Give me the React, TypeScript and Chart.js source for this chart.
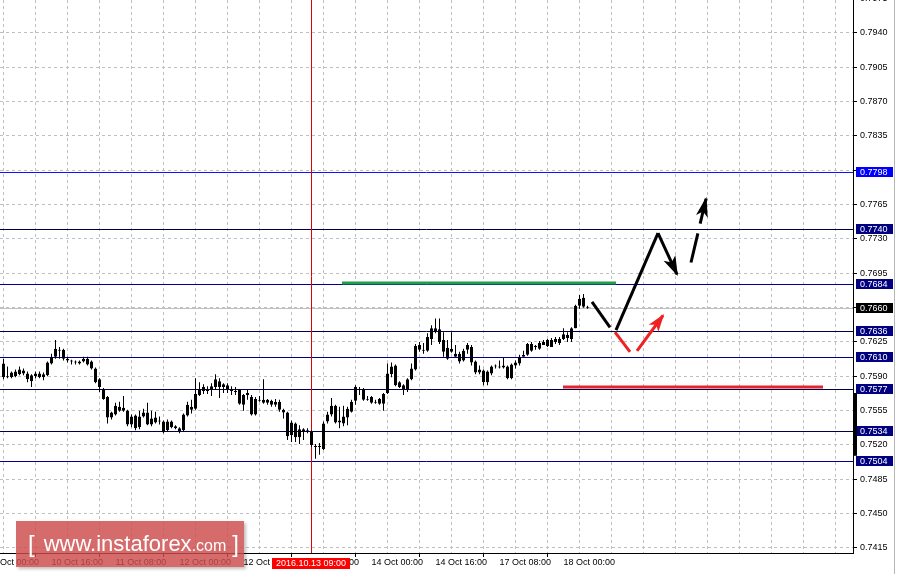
import React, { useEffect, useRef } from "react";
import { Chart, registerables } from "chart.js";

Chart.register(...registerables);

// ---- candle data (hourly), candle 0 = 10 Oct 04:00 ----
const opens = [
  0.7603, 0.7590, 0.7589, 0.7595, 0.7592, 0.7596, 0.7593, 0.7585, 0.7593, 0.7589,
  0.7589, 0.7591, 0.7603, 0.7610, 0.7617, 0.7617, 0.7608, 0.7606, 0.7605, 0.7603,
  0.7605, 0.7608, 0.7605, 0.7598, 0.7587, 0.7577, 0.7569, 0.7548, 0.7551, 0.7555,
  0.7558, 0.7555, 0.7541, 0.7550, 0.7538, 0.7549, 0.7553, 0.7541, 0.7548, 0.7545,
  0.7544, 0.7535, 0.7544, 0.7539, 0.7537, 0.7535, 0.7550, 0.7559, 0.7557, 0.7571,
  0.7579, 0.7576, 0.7576, 0.7579, 0.7585, 0.7582, 0.7581, 0.7577, 0.7575, 0.7576,
  0.7561, 0.7571, 0.7569, 0.7551, 0.7566, 0.7566, 0.7566, 0.7565, 0.7561, 0.7564,
  0.7556, 0.7553, 0.7530, 0.7542, 0.7528, 0.7534, 0.7535, 0.7534, 0.7519, 0.7519,
  0.7516, 0.7544, 0.7551, 0.7560, 0.7545, 0.7549, 0.7548, 0.7554, 0.7565, 0.7577,
  0.7577, 0.7567, 0.7569, 0.7564, 0.7562, 0.7562, 0.7573, 0.7592, 0.7601, 0.7584,
  0.7581, 0.7576, 0.7587, 0.7597, 0.7617, 0.7617, 0.7616, 0.7628, 0.7636, 0.7638,
  0.7627, 0.7608, 0.7618, 0.7613, 0.7613, 0.7606, 0.7622, 0.7620, 0.7605, 0.7594,
  0.7596, 0.7584, 0.7593, 0.7600, 0.7600, 0.7599, 0.7600, 0.7588, 0.7601, 0.7603,
  0.7610, 0.7612, 0.7623, 0.7620, 0.7618, 0.7622, 0.7627, 0.7620, 0.7625, 0.7624,
  0.7628, 0.7632, 0.7628, 0.7639, 0.7662, 0.7670, 0.7661,
];
const highs = [
  0.7608, 0.7600, 0.7595, 0.7597, 0.7600, 0.7598, 0.7595, 0.7592, 0.7595, 0.7595,
  0.7594, 0.7605, 0.7613, 0.7627, 0.7620, 0.7618, 0.7610, 0.7607, 0.7606, 0.7606,
  0.7610, 0.7610, 0.7606, 0.7599, 0.7588, 0.7578, 0.7570, 0.7554, 0.7563, 0.7564,
  0.7570, 0.7556, 0.7551, 0.7551, 0.7555, 0.7557, 0.7563, 0.7555, 0.7554, 0.7549,
  0.7545, 0.7546, 0.7545, 0.7540, 0.7538, 0.7552, 0.7564, 0.7566, 0.7588, 0.7584,
  0.7582, 0.7580, 0.7583, 0.7592, 0.7588, 0.7583, 0.7583, 0.7580, 0.7579, 0.7577,
  0.7572, 0.7576, 0.7571, 0.7569, 0.7570, 0.7587, 0.7567, 0.7566, 0.7567, 0.7566,
  0.7557, 0.7554, 0.7545, 0.7543, 0.7540, 0.7537, 0.7537, 0.7535, 0.7521, 0.7522,
  0.7544, 0.7554, 0.7568, 0.7561, 0.7559, 0.7560, 0.7559, 0.7566, 0.7581, 0.7579,
  0.7578, 0.7570, 0.7570, 0.7566, 0.7568, 0.7573, 0.7603, 0.7604, 0.7602, 0.7585,
  0.7582, 0.7588, 0.7603, 0.7623, 0.7625, 0.7624, 0.7634, 0.7642, 0.7649, 0.7649,
  0.7635, 0.7627, 0.7635, 0.7622, 0.7615, 0.7618, 0.7624, 0.7622, 0.7606, 0.7601,
  0.7597, 0.7596, 0.7601, 0.7602, 0.7606, 0.7609, 0.7601, 0.7603, 0.7606, 0.7612,
  0.7616, 0.7624, 0.7625, 0.7622, 0.7626, 0.7627, 0.7628, 0.7629, 0.7630, 0.7630,
  0.7639, 0.7635, 0.7640, 0.7663, 0.7673, 0.7674, 0.7662,
];
const lows = [
  0.7587, 0.7588, 0.7588, 0.7589, 0.7591, 0.7591, 0.7584, 0.7579, 0.7588, 0.7588,
  0.7586, 0.7590, 0.7602, 0.7608, 0.7608, 0.7606, 0.7604, 0.7602, 0.7602, 0.7602,
  0.7604, 0.7601, 0.7597, 0.7583, 0.7574, 0.7566, 0.7542, 0.7546, 0.7550, 0.7554,
  0.7554, 0.7539, 0.7538, 0.7535, 0.7536, 0.7548, 0.7540, 0.7539, 0.7542, 0.7541,
  0.7532, 0.7534, 0.7537, 0.7536, 0.7532, 0.7534, 0.7549, 0.7552, 0.7556, 0.7570,
  0.7572, 0.7572, 0.7570, 0.7576, 0.7568, 0.7573, 0.7573, 0.7571, 0.7571, 0.7561,
  0.7555, 0.7566, 0.7550, 0.7550, 0.7564, 0.7562, 0.7561, 0.7559, 0.7559, 0.7554,
  0.7547, 0.7525, 0.7523, 0.7523, 0.7521, 0.7525, 0.7532, 0.7518, 0.7506, 0.7510,
  0.7515, 0.7542, 0.7549, 0.7542, 0.7537, 0.7539, 0.7540, 0.7553, 0.7561, 0.7571,
  0.7565, 0.7565, 0.7562, 0.7562, 0.7561, 0.7555, 0.7572, 0.7589, 0.7580, 0.7578,
  0.7571, 0.7574, 0.7586, 0.7596, 0.7615, 0.7613, 0.7615, 0.7622, 0.7634, 0.7623,
  0.7610, 0.7607, 0.7614, 0.7610, 0.7603, 0.7605, 0.7613, 0.7601, 0.7592, 0.7592,
  0.7581, 0.7581, 0.7591, 0.7598, 0.7598, 0.7598, 0.7587, 0.7587, 0.7598, 0.7601,
  0.7610, 0.7611, 0.7615, 0.7617, 0.7617, 0.7622, 0.7620, 0.7620, 0.7623, 0.7622,
  0.7627, 0.7625, 0.7625, 0.7639, 0.7659, 0.7660, 0.7659,
];
const closes = [
  0.7589, 0.7589, 0.7594, 0.7590, 0.7597, 0.7593, 0.7587, 0.7591, 0.7590, 0.7593,
  0.7592, 0.7604, 0.7610, 0.7618, 0.7616, 0.7608, 0.7606, 0.7605, 0.7604, 0.7605,
  0.7608, 0.7602, 0.7598, 0.7584, 0.7579, 0.7567, 0.7548, 0.7553, 0.7560, 0.7559,
  0.7555, 0.7541, 0.7549, 0.7537, 0.7549, 0.7553, 0.7541, 0.7547, 0.7543, 0.7544,
  0.7533, 0.7544, 0.7538, 0.7537, 0.7534, 0.7551, 0.7561, 0.7556, 0.7572, 0.7577,
  0.7575, 0.7575, 0.7580, 0.7587, 0.7579, 0.7579, 0.7577, 0.7575, 0.7574, 0.7562,
  0.7571, 0.7573, 0.7551, 0.7567, 0.7565, 0.7563, 0.7563, 0.7561, 0.7564, 0.7556,
  0.7553, 0.7529, 0.7543, 0.7528, 0.7536, 0.7536, 0.7534, 0.7520, 0.7518, 0.7518,
  0.7542, 0.7551, 0.7560, 0.7543, 0.7543, 0.7542, 0.7557, 0.7564, 0.7579, 0.7576,
  0.7566, 0.7566, 0.7563, 0.7563, 0.7567, 0.7572, 0.7593, 0.7600, 0.7581, 0.7579,
  0.7577, 0.7587, 0.7598, 0.7621, 0.7622, 0.7616, 0.7630, 0.7639, 0.7639, 0.7625,
  0.7615, 0.7619, 0.7615, 0.7610, 0.7605, 0.7616, 0.7617, 0.7604, 0.7594, 0.7597,
  0.7584, 0.7595, 0.7600, 0.7601, 0.7599, 0.7601, 0.7588, 0.7602, 0.7604, 0.7610,
  0.7612, 0.7623, 0.7616, 0.7621, 0.7624, 0.7625, 0.7621, 0.7627, 0.7628, 0.7628,
  0.7633, 0.7629, 0.7639, 0.7662, 0.7669, 0.7661, 0.7660,
];

// ---- axes ----
const xTickCandles = [-4, 12, 28, 44, 60, 76, 92, 108, 124, 140];
const xTickLabels = [
  "10 Oct 00:00", "10 Oct 16:00", "11 Oct 08:00", "12 Oct 00:00", "12 Oct 16:00",
  "13 Oct 08:00", "14 Oct 00:00", "14 Oct 16:00", "17 Oct 08:00", "18 Oct 00:00",
];
const xGridCandles = [-4, 4, 12, 20, 28, 36, 44, 52, 60, 68, 76, 84, 92, 100, 108, 116, 124, 132, 140, 148, 156, 164, 172, 180, 188, 196, 204, 212];
const yTicks = [
  0.7415, 0.7450, 0.7485, 0.7520, 0.7555, 0.7590, 0.7625, 0.7660, 0.7695,
  0.7730, 0.7765, 0.7800, 0.7835, 0.7870, 0.7905, 0.7940, 0.7975,
];
const yMin = 0.74099;
const yMax = 0.79736;
const xMax = 213.25;

// ---- levels & annotations ----
const levelValues = [0.7798, 0.7740, 0.7684, 0.7636, 0.7610, 0.7577, 0.7534, 0.7504];
const currentPrice = 0.7660;
const crossCandle = 77;
const crossLabel = "2016.10.13 09:00";

const greenLineX = [85.5, 154];
const greenLineY = [0.7685, 0.7685];
const redLineX = [140.75, 205.75];
const redLineY = [0.7579, 0.7579];
const blackSeg1X = [148, 152.5];
const blackSeg1Y = [0.7666, 0.7640];
const blackSeg2X = [154, 164.5];
const blackSeg2Y = [0.7637, 0.7736];
const blackArrowX = [164.5, 169.25];
const blackArrowY = [0.7736, 0.7694];
const dashArrowX = [172.75, 176.5];
const dashArrowY = [0.7706, 0.7771];
const redSegX = [153.75, 157.5];
const redSegY = [0.7635, 0.7615];
const redArrowX = [159.25, 165.75];
const redArrowY = [0.7616, 0.7652];

// style tables
const OFF = 0.875; // candle i centred at x = i + OFF
const levelLineColors = ["#1010ff", "#00004a", "#000090", "#00004a", "#000090", "#00004a", "#00004a", "#000090"];
const levelBoxColors = ["#0000ff", "#000080", "#000080", "#000080", "#000080", "#000080", "#000080", "#000080"];
const FONT = '"Liberation Sans", Arial, sans-serif';

const pts = (xs: number[], ys: number[]) => xs.map((x, i) => ({ x, y: ys[i] }));

const zeroPad = (s: any) => {
  s.paddingLeft = 0;
  s.paddingRight = 0;
  s.paddingTop = 0;
  s.paddingBottom = 0;
};

const overlayPlugin = {
  id: "overlay",
  beforeDatasetsDraw(chart: any) {
    const { ctx, chartArea: a, scales } = chart;
    const x = scales.x;
    const y = scales.y;
    ctx.save();
    ctx.beginPath();
    ctx.rect(a.left, a.top, a.right - a.left, a.bottom - a.top);
    ctx.clip();
    ctx.lineWidth = 1;
    const py = Math.round(y.getPixelForValue(currentPrice)) + 0.5;
    ctx.strokeStyle = "#c0c0c0";
    ctx.beginPath();
    ctx.moveTo(a.left, py);
    ctx.lineTo(a.right, py);
    ctx.stroke();
    levelValues.forEach((v, i) => {
      const yy = Math.round(y.getPixelForValue(v)) + 0.5;
      ctx.strokeStyle = levelLineColors[i];
      ctx.beginPath();
      ctx.moveTo(a.left, yy);
      ctx.lineTo(a.right, yy);
      ctx.stroke();
    });
    const cx = Math.floor(x.getPixelForValue(crossCandle + OFF)) + 0.5;
    ctx.strokeStyle = "#e00000";
    ctx.beginPath();
    ctx.moveTo(cx, a.top);
    ctx.lineTo(cx, a.bottom);
    ctx.stroke();
    ctx.restore();
  },
  afterDatasetsDraw(chart: any) {
    const { ctx } = chart;
    chart.data.datasets.forEach((ds: any, i: number) => {
      if (!ds.arrowHead) return;
      const meta = chart.getDatasetMeta(i);
      const n = meta.data.length;
      const p1 = meta.data[n - 2];
      const p2 = meta.data[n - 1];
      const ang = Math.atan2(p2.y - p1.y, p2.x - p1.x);
      const { len, width } = ds.arrowHead;
      const tx = p2.x + Math.cos(ang) * 2;
      const ty = p2.y + Math.sin(ang) * 2;
      const bx = tx - Math.cos(ang) * len;
      const by = ty - Math.sin(ang) * len;
      const nx = (-Math.sin(ang) * width) / 2;
      const ny = (Math.cos(ang) * width) / 2;
      ctx.save();
      ctx.fillStyle = ds.borderColor;
      ctx.beginPath();
      ctx.moveTo(tx, ty);
      ctx.lineTo(bx + nx, by + ny);
      ctx.lineTo(bx + Math.cos(ang) * len * 0.25, by + Math.sin(ang) * len * 0.25);
      ctx.lineTo(bx - nx, by - ny);
      ctx.closePath();
      ctx.fill();
      ctx.restore();
    });
  },
  afterDraw(chart: any) {
    const { ctx, chartArea: a, scales } = chart;
    const x = scales.x;
    const y = scales.y;
    ctx.save();
    ctx.font = `9px ${FONT}`;
    ctx.textBaseline = "middle";
    ctx.textAlign = "left";
    const box = (v: number, color: string) => {
      const yy = Math.round(y.getPixelForValue(v));
      ctx.fillStyle = color;
      ctx.fillRect(a.right + 3, yy - 5, 37, 10);
      ctx.fillStyle = "#ffffff";
      ctx.fillText(v.toFixed(4), a.right + 7, yy + 0.5);
    };
    levelValues.forEach((v, i) => box(v, levelBoxColors[i]));
    box(currentPrice, "#000000");
    const cx = Math.floor(x.getPixelForValue(crossCandle + OFF));
    ctx.fillStyle = "#ff0000";
    ctx.fillRect(cx - 39, a.bottom + 5, 78, 11);
    ctx.fillStyle = "#ffffff";
    ctx.textAlign = "center";
    ctx.fillText(crossLabel, cx, a.bottom + 11);
    ctx.fillStyle = "#000000";
    const t1 = y.getPixelForValue(0.7573);
    const t2 = y.getPixelForValue(0.7509);
    ctx.fillRect(a.right + 1, t1, 3, t2 - t1);
    ctx.strokeStyle = "#b8b8b8";
    ctx.lineWidth = 1;
    ctx.beginPath();
    ctx.moveTo(894.5, 0);
    ctx.lineTo(894.5, chart.height);
    ctx.stroke();
    ctx.restore();
  },
};

export default function App() {
  const ref = useRef<HTMLCanvasElement>(null);
  useEffect(() => {
    const candleIdx = opens.map((_, i) => i);
    const wickData = candleIdx.map((i) => ({ x: i + OFF, y: [lows[i], highs[i]] }));
    const bodyData = candleIdx.map((i) => ({ x: i + OFF, y: [opens[i], closes[i]] }));
    const bodyColors = candleIdx.map((i) => (closes[i] >= opens[i] ? "#ffffff" : "#000000"));

    const lineDs = (data: any, color: string, extra: any = {}) => ({
      type: "line",
      data,
      borderColor: color,
      backgroundColor: color,
      borderWidth: 3,
      pointRadius: 0,
      fill: false,
      tension: 0,
      borderCapStyle: "butt",
      ...extra,
    });

    const chart = new Chart(ref.current as HTMLCanvasElement, {
      type: "bar",
      data: {
        datasets: [
          lineDs(pts(greenLineX, greenLineY), "#1f9e4c"),
          lineDs(pts(redLineX, redLineY), "#e3262b"),
          lineDs(pts(blackSeg1X, blackSeg1Y), "#000000"),
          lineDs(pts(blackSeg2X, blackSeg2Y), "#000000"),
          lineDs(pts(blackArrowX, blackArrowY), "#000000", { arrowHead: { len: 20, width: 13 } }),
          lineDs(pts(dashArrowX, dashArrowY), "#000000", { borderDash: [30, 10], arrowHead: { len: 20, width: 12 } }),
          lineDs(pts(redSegX, redSegY), "#ee2222"),
          lineDs(pts(redArrowX, redArrowY), "#ee2222", { arrowHead: { len: 18, width: 12 } }),
          {
            type: "bar",
            data: wickData,
            backgroundColor: "#000000",
            borderWidth: 0,
            barThickness: 1,
            grouped: false,
            inflateAmount: 0,
          },
          {
            type: "bar",
            data: bodyData,
            backgroundColor: bodyColors,
            borderColor: "#000000",
            borderWidth: 1,
            borderSkipped: false,
            barThickness: 3,
            grouped: false,
            inflateAmount: 0,
          },
        ] as any,
      },
      options: {
        responsive: false,
        devicePixelRatio: 1,
        animation: false,
        layout: { padding: 0 },
        plugins: { legend: { display: false }, tooltip: { enabled: false } },
        scales: {
          x: {
            type: "linear",
            min: 0,
            max: xMax,
            offset: false,
            afterFit: (s: any) => {
              s.height = 21;
              zeroPad(s);
            },
            afterBuildTicks: (s: any) => {
              s.ticks = xGridCandles.map((c) => ({ value: c + OFF }));
            },
            grid: {
              color: "#c0c0c0",
              tickLength: 4,
              tickColor: (c: any) => {
                const idx = c.tick ? Math.round(c.tick.value - OFF) : NaN;
                return xTickCandles.includes(idx) ? "#000000" : "rgba(0,0,0,0)";
              },
            },
            border: { display: true, color: "#000000", dash: [3, 3] },
            ticks: {
              autoSkip: false,
              maxRotation: 0,
              minRotation: 0,
              align: "start",
              padding: 0,
              color: "#000000",
              font: { family: FONT, size: 9 },
              callback: (v: any) => {
                const k = xTickCandles.indexOf(Math.round(Number(v) - OFF));
                return k >= 0 ? xTickLabels[k] : "";
              },
            },
          },
          y: {
            type: "linear",
            position: "right",
            min: yMin,
            max: yMax,
            afterFit: (s: any) => {
              s.width = 45;
              zeroPad(s);
            },
            afterBuildTicks: (s: any) => {
              s.ticks = yTicks.map((v) => ({ value: v }));
            },
            grid: { color: "#c0c0c0", tickLength: 4, tickColor: "#000000" },
            border: { display: true, color: "#000000", dash: [3, 3] },
            ticks: {
              padding: 3,
              color: "#000000",
              font: { family: FONT, size: 9 },
              callback: (v: any) => Number(v).toFixed(4),
            },
          },
        },
      } as any,
      plugins: [overlayPlugin],
    });
    return () => chart.destroy();
  }, []);

  return (
    <div style={{ position: "fixed", left: 0, top: 0, width: 898, height: 574, overflow: "hidden", background: "#ffffff" }}>
      <canvas ref={ref} width={898} height={574} style={{ display: "block" }} />
      <div
        style={{
          position: "absolute",
          left: 16,
          top: 521,
          width: 228,
          height: 46,
          background: "rgba(204,74,74,0.82)",
          boxShadow: "2px 2px 3px rgba(0,0,0,0.25)",
          color: "#ffffff",
          fontFamily: FONT,
          display: "flex",
          alignItems: "center",
          whiteSpace: "nowrap",
          lineHeight: 1,
        }}
      >
        <span style={{ fontSize: 24, marginLeft: 12 }}>[</span>
        <span style={{ fontSize: 22, marginLeft: 9 }}>www.instaforex</span>
        <span style={{ fontSize: 16, marginTop: 4 }}>.com</span>
        <span style={{ fontSize: 24, marginLeft: 6 }}>]</span>
      </div>
    </div>
  );
}
